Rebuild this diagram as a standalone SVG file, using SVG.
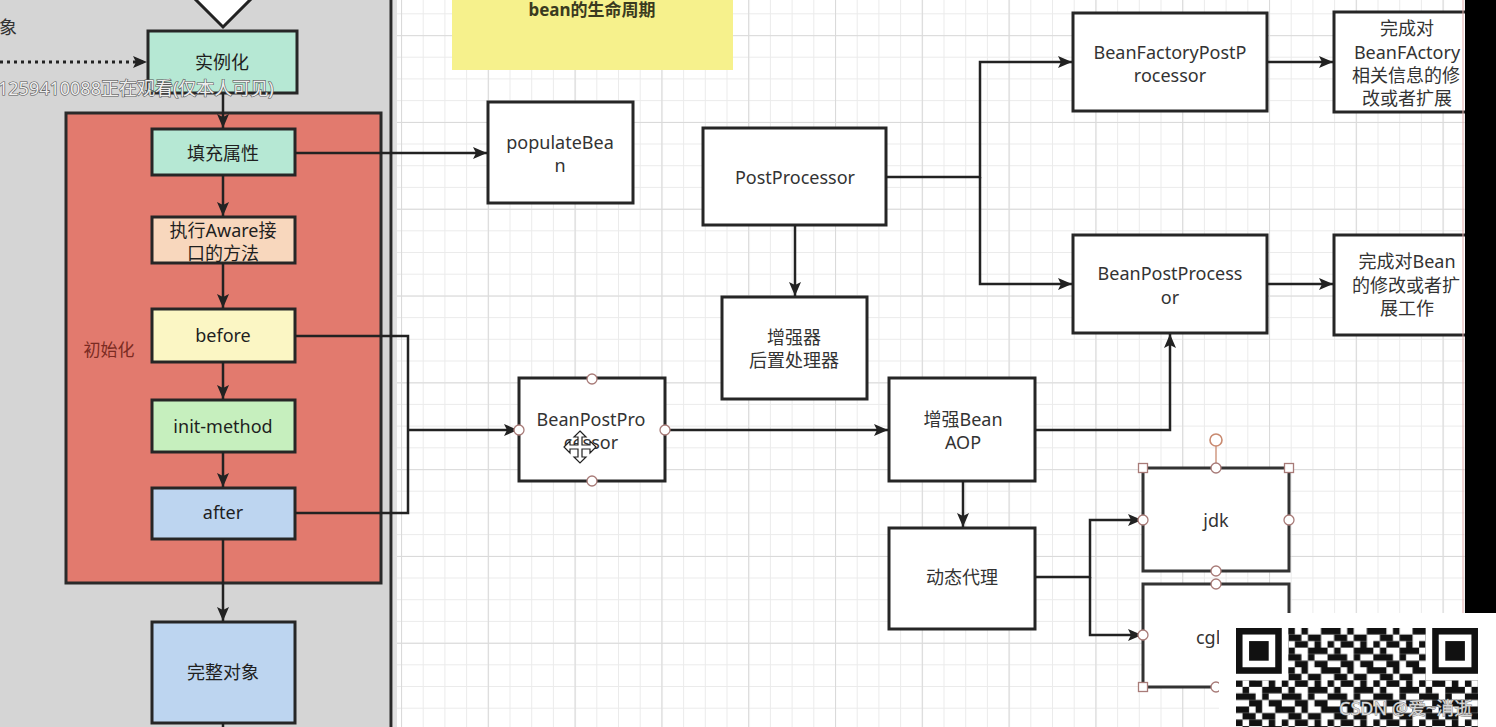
<svg xmlns="http://www.w3.org/2000/svg" width="1496" height="727" viewBox="0 0 1496 727">
<defs>
<style>
.t{font-family:'Noto Sans','Noto Sans CJK SC',sans-serif;font-size:18px;fill:#333;text-anchor:middle}
.tl{fill:#1f1f1f}
.box{fill:#fff;stroke:#262626;stroke-width:3}
.lb{stroke:#2a2a2a;stroke-width:3}
.c{fill:none;stroke:#222;stroke-width:2.5}
.h{fill:#fff;stroke:#a87b78;stroke-width:1.3}
</style>
<marker id="a" viewBox="0 0 14 12" refX="14" refY="6" markerWidth="14" markerHeight="12" markerUnits="userSpaceOnUse" orient="auto"><path d="M0,0 L14,6 L0,12 L3,6 z" fill="#222"/></marker>
<pattern id="gmin" x="10.4" y="13.3" width="21.7" height="21.7" patternUnits="userSpaceOnUse"><path d="M0.5 0V21.7M0 0.5H21.7" stroke="#ebebeb" stroke-width="1" fill="none"/></pattern>
<pattern id="gmaj" x="53.8" y="35.2" width="86.8" height="86.8" patternUnits="userSpaceOnUse"><path d="M0.5 0V86.8M0 0.5H86.8" stroke="#dadada" stroke-width="1.2" fill="none"/></pattern>
<pattern id="qr" x="1236" y="628" width="45.78" height="39.24" patternUnits="userSpaceOnUse">
<g transform="scale(6.54)" fill="#111">
<rect x="0" y="0" width="2" height="1"/><rect x="3" y="0" width="1" height="1"/><rect x="6" y="0" width="1" height="1"/>
<rect x="1" y="1" width="2" height="1"/><rect x="4" y="1" width="2" height="1"/>
<rect x="0" y="2" width="1" height="1"/><rect x="2" y="2" width="2" height="1"/><rect x="5" y="2" width="1" height="1"/>
<rect x="1" y="3" width="1" height="1"/><rect x="4" y="3" width="3" height="1"/>
<rect x="0" y="4" width="3" height="1"/><rect x="4" y="4" width="1" height="1"/>
<rect x="2" y="5" width="2" height="1"/><rect x="5" y="5" width="2" height="1"/>
</g></pattern>
</defs>

<!-- canvas background -->
<rect x="0" y="0" width="1496" height="727" fill="#fff"/>
<rect x="395" y="0" width="1070" height="727" fill="url(#gmin)"/>
<rect x="395" y="0" width="1070" height="727" fill="url(#gmaj)"/>

<!-- left gray panel -->
<rect x="0" y="0" width="391" height="727" fill="#d5d5d5"/>
<rect x="393" y="0" width="4" height="727" fill="#e2e2e2"/>
<line x1="391" y1="0" x2="391" y2="727" class="lb"/>
<text x="8" y="34" class="t">象</text>

<g id="start-diamond"><polygon points="223,27 254,-4 223,-35 192,-4" fill="#fff" stroke="#222" stroke-width="3"/></g>

<g id="title"><rect x="452" y="-5" width="281" height="75" fill="#f6f18c"/><text x="592" y="16" class="t" style="font-weight:bold;font-size:17px;fill:#3a3a20">bean的生命周期</text></g>

<g id="init-container"><rect x="66" y="113" width="315" height="470" fill="#e27a6e" stroke="#2a2a2a" stroke-width="3"/><text x="109" y="356" class="t" style="font-size:17px;fill:#7b2b22">初始化</text></g>

<g id="instantiate"><rect x="148" y="31" width="149" height="62" fill="#b6e8d4" stroke="#262626" stroke-width="3"/><text x="222" y="69" class="t tl">实例化</text></g>
<g id="populate"><rect x="152" y="129" width="143" height="46" fill="#b6e8d4" stroke="#262626" stroke-width="3"/><text x="223" y="160" class="t tl">填充属性</text></g>
<g id="aware"><rect x="152" y="217" width="143" height="46" fill="#f8d7bd" stroke="#262626" stroke-width="3"/><text x="223" y="237" class="t tl">执行Aware接</text><text x="223" y="260" class="t tl">口的方法</text></g>
<g id="before"><rect x="152" y="309" width="143" height="53" fill="#fbf6c4" stroke="#262626" stroke-width="3"/><text x="223" y="342" class="t tl">before</text></g>
<g id="init-method"><rect x="152" y="400" width="143" height="52" fill="#c6efbe" stroke="#262626" stroke-width="3"/><text x="223" y="433" class="t tl">init-method</text></g>
<g id="after"><rect x="152" y="488" width="143" height="51" fill="#bdd5f0" stroke="#262626" stroke-width="3"/><text x="223" y="519" class="t tl">after</text></g>
<g id="complete"><rect x="152" y="622" width="143" height="101" fill="#bdd5f0" stroke="#262626" stroke-width="3"/><text x="223" y="679" class="t tl">完整对象</text></g>

<g id="populateBean"><rect x="488" y="102" width="145" height="101" class="box"/><text x="560" y="149" class="t">populateBea</text><text x="560" y="172" class="t">n</text></g>
<g id="postProcessor"><rect x="703" y="128" width="183" height="97" class="box"/><text x="795" y="184" class="t">PostProcessor</text></g>
<g id="enhancer"><rect x="722" y="297" width="145" height="102" class="box"/><text x="794" y="344" class="t">增强器</text><text x="794" y="367" class="t">后置处理器</text></g>
<g id="beanFactoryPP"><rect x="1073" y="13" width="194" height="98" class="box"/><text x="1170" y="59" class="t">BeanFactoryPostP</text><text x="1170" y="82" class="t">rocessor</text></g>
<g id="bfDesc"><rect x="1334" y="12" width="140" height="100" class="box"/><text x="1407" y="35" class="t">完成对</text><text x="1407" y="59" class="t">BeanFActory</text><text x="1406" y="82" class="t">相关信息的修</text><text x="1407" y="105" class="t">改或者扩展</text></g>
<g id="beanPP"><rect x="1073" y="235" width="194" height="98" class="box"/><text x="1170" y="280" class="t">BeanPostProcess</text><text x="1170" y="304" class="t">or</text></g>
<g id="bppDesc"><rect x="1334" y="235" width="140" height="100" class="box"/><text x="1407" y="268" class="t">完成对Bean</text><text x="1406" y="292" class="t">的修改或者扩</text><text x="1407" y="315" class="t">展工作</text></g>
<g id="beanPPmid"><rect x="519" y="378" width="146" height="103" class="box"/><text x="591" y="426" class="t">BeanPostPro</text><text x="591" y="449" class="t">cessor</text></g>
<g id="enhanceBean"><rect x="889" y="378" width="146" height="103" class="box"/><text x="963" y="426" class="t">增强Bean</text><text x="963" y="449" class="t">AOP</text></g>
<g id="dynProxy"><rect x="889" y="528" width="146" height="101" class="box"/><text x="962" y="584" class="t">动态代理</text></g>
<g id="jdk"><rect x="1143" y="468" width="146" height="103" fill="#fff" stroke="#333" stroke-width="3"/><text x="1216" y="527" class="t">jdk</text></g>
<g id="cglib"><rect x="1143" y="584" width="146" height="103" fill="#fff" stroke="#333" stroke-width="3"/><text x="1216" y="644" class="t">cglib</text></g>

<g id="connectors">
<path d="M0,62 H147" fill="none" stroke="#222" stroke-width="3" stroke-dasharray="3 4" marker-end="url(#a)"/>
<path d="M223,93 V128" class="c" marker-end="url(#a)"/>
<path d="M223,175 V216" class="c" marker-end="url(#a)"/>
<path d="M223,263 V308" class="c" marker-end="url(#a)"/>
<path d="M223,362 V399" class="c" marker-end="url(#a)"/>
<path d="M223,452 V487" class="c" marker-end="url(#a)"/>
<path d="M223,539 V621" class="c" marker-end="url(#a)"/>
<path d="M223,723 V727" class="c"/>
<path d="M295,153 H487" class="c" marker-end="url(#a)"/>
<path d="M295,336 H408 V513 H295" class="c"/>
<path d="M408,430 H518" class="c" marker-end="url(#a)"/>
<path d="M665,430 H888" class="c" marker-end="url(#a)"/>
<path d="M795,225 V296" class="c" marker-end="url(#a)"/>
<path d="M886,177 H980 V62 H1072" class="c" marker-end="url(#a)"/>
<path d="M980,177 V284 H1072" class="c" marker-end="url(#a)"/>
<path d="M1267,62 H1333" class="c" marker-end="url(#a)"/>
<path d="M1267,284 H1333" class="c" marker-end="url(#a)"/>
<path d="M1035,430 H1170 V334" class="c" marker-end="url(#a)"/>
<path d="M963,481 V527" class="c" marker-end="url(#a)"/>
<path d="M1035,577 H1090 V520 H1142" class="c" marker-end="url(#a)"/>
<path d="M1090,577 V635 H1142" class="c" marker-end="url(#a)"/>
</g>

<g id="selection-handles">
<circle cx="592" cy="379" r="5" class="h"/><circle cx="592" cy="481" r="5" class="h"/><circle cx="519" cy="430" r="5" class="h"/><circle cx="665" cy="430" r="5" class="h"/>
<line x1="1216" y1="445" x2="1216" y2="468" stroke="#c98a70" stroke-width="1.3"/>
<circle cx="1216" cy="440" r="6" fill="#fff" stroke="#c98a70" stroke-width="1.6"/>
<rect x="1138.5" y="463.5" width="9" height="9" class="h"/><rect x="1284.5" y="463.5" width="9" height="9" class="h"/><rect x="1138.5" y="682.5" width="9" height="9" class="h"/>
<circle cx="1216" cy="468" r="5" class="h"/><circle cx="1143" cy="520" r="5" class="h"/><circle cx="1289" cy="520" r="5" class="h"/><circle cx="1216" cy="571" r="5" class="h"/>
<circle cx="1216" cy="584" r="5" class="h"/><circle cx="1143" cy="635" r="5" class="h"/><circle cx="1216" cy="687" r="5" class="h"/>
<polygon transform="translate(580,447)" points="0,-16 6,-10 2,-10 2,-2 10,-2 10,-6 16,0 10,6 10,2 2,2 2,10 6,10 0,16 -6,10 -2,10 -2,2 -10,2 -10,6 -16,0 -10,-6 -10,-2 -2,-2 -2,-10 -6,-10" fill="#fff" stroke="#222" stroke-width="1.2"/>
</g>

<text x="-2" y="95" style="font-family:'Noto Sans','Noto Sans CJK SC',sans-serif;font-size:18px;fill:#efefef;stroke:#555;stroke-width:1.2;paint-order:stroke">1259410088正在观看(仅本人可见)</text>

<!-- right black band and page border -->
<line x1="1463" y1="0" x2="1463" y2="613" stroke="#e0a8a8" stroke-width="1"/>
<rect x="1465" y="0" width="31" height="613" fill="#000"/>

<!-- QR overlay -->
<g id="qr-overlay">
<rect x="1219" y="613" width="277" height="114" fill="#fff"/>
<rect x="1236" y="628" width="242" height="99" fill="url(#qr)"/>
<rect x="1236" y="628" width="52.32" height="52.32" fill="#fff"/>
<rect x="1236" y="628" width="45.78" height="45.78" fill="#111"/>
<rect x="1242.54" y="634.54" width="32.7" height="32.7" fill="#fff"/>
<rect x="1249.08" y="641.08" width="19.62" height="19.62" fill="#111"/>
<rect x="1425.66" y="628" width="52.32" height="52.32" fill="#fff"/>
<rect x="1432.2" y="628" width="45.78" height="45.78" fill="#111"/>
<rect x="1438.74" y="634.54" width="32.7" height="32.7" fill="#fff"/>
<rect x="1445.28" y="641.08" width="19.62" height="19.62" fill="#111"/>
<text x="1339" y="715" style="font-family:'Noto Sans','Noto Sans CJK SC',sans-serif;font-size:18px;fill:#d8d8d8;stroke:#777;stroke-width:0.8;paint-order:stroke">CSDN @爱~消逝</text>
</g>
</svg>
